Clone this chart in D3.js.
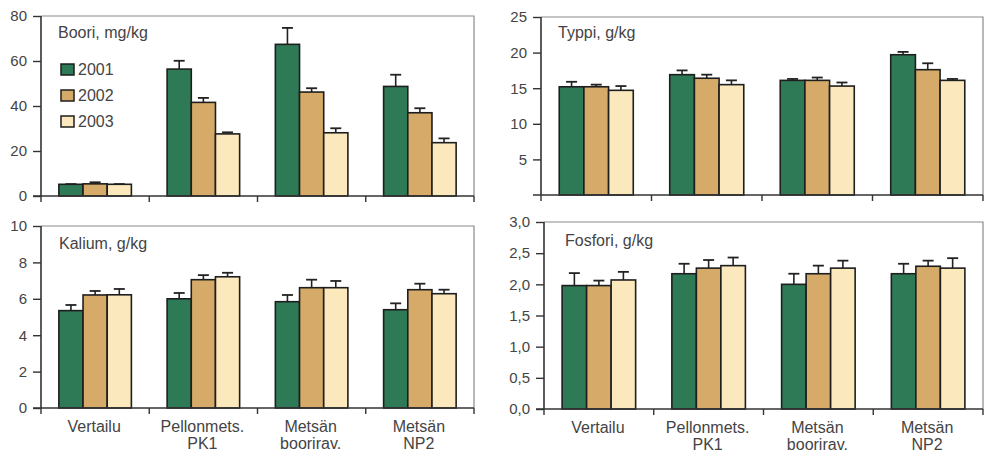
<!DOCTYPE html>
<html><head><meta charset="utf-8">
<script src="https://cdn.jsdelivr.net/npm/d3@7/dist/d3.min.js"></script>
<style>body{margin:0;background:#fff}svg{display:block}text{font-family:"Liberation Sans",Arial,sans-serif}</style>
</head><body><svg id="c" width="988" height="456"></svg>
<script>
const categories = [["Vertailu"], ["Pellonmets.", "PK1"], ["Metsän", "boorirav."], ["Metsän", "NP2"]];
const years = ["2001", "2002", "2003"];
const colors = ["#2f7a56", "#d6ab69", "#fbe9bd"];

// values per category: [2001, 2002, 2003]
const booriMean = [[5.2, 5.4, 5.2], [56.4, 41.6, 27.6], [67.4, 46.2, 28.1], [48.7, 37.0, 23.7]];
const booriTop  = [[5.3, 6.1, 5.3], [60.1, 43.6, 28.3], [74.7, 47.9, 30.1], [53.9, 39.0, 25.6]];
const typpiMean = [[15.2, 15.2, 14.7], [16.9, 16.4, 15.5], [16.1, 16.1, 15.3], [19.7, 17.6, 16.1]];
const typpiTop  = [[15.9, 15.5, 15.3], [17.5, 16.9, 16.1], [16.3, 16.5, 15.8], [20.1, 18.5, 16.3]];
const kaliumMean = [[5.35, 6.21, 6.22], [6.0, 7.05, 7.21], [5.84, 6.61, 6.61], [5.4, 6.5, 6.28]];
const kaliumTop  = [[5.66, 6.43, 6.54], [6.32, 7.3, 7.43], [6.21, 7.05, 6.98], [5.75, 6.83, 6.5]];
const fosforiMean = [[1.98, 1.98, 2.07], [2.17, 2.26, 2.30], [2.0, 2.17, 2.26], [2.17, 2.29, 2.26]];
const fosforiTop  = [[2.18, 2.06, 2.20], [2.33, 2.39, 2.43], [2.17, 2.30, 2.38], [2.33, 2.38, 2.42]];

const booriTicks = [0, 20, 40, 60, 80];
const typpiTicks = [5, 10, 15, 20, 25];
const kaliumTicks = [0, 2, 4, 6, 8, 10];
const fosforiTicks = [0, 0.5, 1.0, 1.5, 2.0, 2.5, 3.0];

const svg = d3.select("#c");
const txt = "#444";

function panel(o) {
  const g = svg.append("g");
  const x = d3.scaleBand().domain(d3.range(categories.length)).range([o.left, o.right]);
  const xs = d3.scaleBand().domain(years).range([x.bandwidth() * 0.165, x.bandwidth() * 0.835]);
  const y = d3.scaleLinear().domain([0, o.max]).range([o.bottom, o.top]);

  g.append("path").attr("d", `M${o.left},${o.top}H${o.right}V${o.bottom}`)
    .attr("fill", "none").attr("stroke", "#8a8a8a").attr("stroke-width", 1.2);

  o.mean.forEach((vals, ci) => {
    vals.forEach((v, yi) => {
      const bx = x(ci) + xs(years[yi]);
      const bw = xs.bandwidth();
      const top = o.top_[ci][yi];
      const cx = bx + bw / 2;
      g.append("line").attr("x1", cx).attr("x2", cx).attr("y1", y(v)).attr("y2", y(top))
        .attr("stroke", "#222").attr("stroke-width", 1.6);
      g.append("line").attr("x1", cx - 5.5).attr("x2", cx + 5.5).attr("y1", y(top)).attr("y2", y(top))
        .attr("stroke", "#222").attr("stroke-width", 1.8);
      g.append("rect").attr("x", bx).attr("y", y(v)).attr("width", bw).attr("height", y(0) - y(v))
        .attr("fill", colors[yi]).attr("stroke", "#1e1e1e").attr("stroke-width", 1.6);
    });
  });

  const ya = g.append("g").attr("transform", `translate(${o.left},0)`)
    .call(d3.axisLeft(y).tickValues(o.ticks).tickSize(8).tickPadding(6).tickFormat(o.fmt));
  ya.select(".domain").attr("stroke", "#333").attr("stroke-width", 1.6)
    .attr("d", `M0,${o.bottom}V${o.top}`);
  ya.selectAll(".tick line").attr("stroke", "#333").attr("stroke-width", 1.4);
  ya.selectAll(".tick text").attr("fill", txt).style("font-size", "15px")
    .style("font-family", '"Liberation Sans",Arial,sans-serif');

  const bounds = d3.range(categories.length + 1).map(i => o.left + i * x.step());
  g.append("line").attr("x1", o.left - 8).attr("x2", o.right).attr("y1", o.bottom).attr("y2", o.bottom)
    .attr("stroke", "#333").attr("stroke-width", 1.6);
  g.selectAll(".xt").data(bounds).join("line").attr("class", "xt")
    .attr("x1", d => d).attr("x2", d => d).attr("y1", o.bottom).attr("y2", o.bottom + 6)
    .attr("stroke", "#333").attr("stroke-width", 1.4);

  if (o.labels) {
    categories.forEach((lines, ci) => {
      const cx = x(ci) + x.bandwidth() / 2 - 1;
      const t = g.append("text").attr("x", cx).attr("y", o.bottom + 24)
        .attr("text-anchor", "middle").attr("fill", txt).style("font-size", "16px");
      lines.forEach((l, li) => t.append("tspan").attr("x", cx).attr("dy", li ? 16.5 : 0).text(l));
    });
  }

  g.append("text").attr("x", o.titleX).attr("y", o.titleY).attr("fill", txt)
    .style("font-size", "16px").text(o.title);
  return { g, x, y };
}

const p1 = panel({ left: 41, right: 474, top: 16, bottom: 196, max: 80, ticks: booriTicks,
  fmt: d3.format("d"), mean: booriMean, top_: booriTop, title: "Boori, mg/kg", titleX: 58, titleY: 38 });
panel({ left: 541, right: 983, top: 17, bottom: 195, max: 25, ticks: typpiTicks,
  fmt: d3.format("d"), mean: typpiMean, top_: typpiTop, title: "Typpi, g/kg", titleX: 558, titleY: 38 });
panel({ left: 41, right: 474, top: 226, bottom: 408, max: 10, ticks: kaliumTicks,
  fmt: d3.format("d"), mean: kaliumMean, top_: kaliumTop, title: "Kalium, g/kg", titleX: 59, titleY: 249, labels: true });
panel({ left: 544, right: 983, top: 222, bottom: 409, max: 3.0, ticks: fosforiTicks,
  fmt: d => d3.format(".1f")(d).replace(".", ","), mean: fosforiMean, top_: fosforiTop,
  title: "Fosfori, g/kg", titleX: 565, titleY: 246, labels: true });

const leg = p1.g.append("g");
years.forEach((yr, i) => {
  const ly = 64 + i * 26;
  leg.append("rect").attr("x", 61).attr("y", ly).attr("width", 13).attr("height", 11)
    .attr("fill", colors[i]).attr("stroke", "#1e1e1e").attr("stroke-width", 1.5);
  leg.append("text").attr("x", 78).attr("y", ly + 11).attr("fill", txt)
    .style("font-size", "16px").text(yr);
});
</script></body></html>
